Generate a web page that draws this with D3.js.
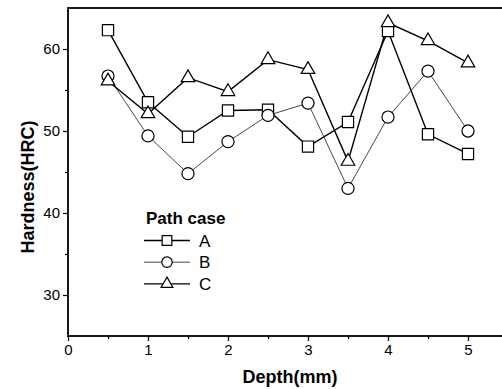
<!DOCTYPE html>
<html lang="en">
<head>
<meta charset="UTF-8">
<title>Hardness vs Depth</title>
<script src="https://cdnjs.cloudflare.com/ajax/libs/d3/7.8.5/d3.min.js"></script>
<style>
  body { margin: 0; background: #fff; }
  svg { display: block; font-family: "Liberation Sans", Arial, sans-serif; }
</style>
</head>
<body>
<svg width="502" height="389"></svg>
<script>
// data
const depth = [0.5, 1, 1.5, 2, 2.5, 3, 3.5, 4, 4.5, 5];
const caseA = [62.3, 53.5, 49.3, 52.5, 52.6, 48.1, 51.1, 62.2, 49.6, 47.2];
const caseB = [56.7, 49.4, 44.8, 48.7, 51.9, 53.4, 43.0, 51.7, 57.3, 50.0];
const caseC = [56.1, 52.1, 56.5, 54.8, 58.7, 57.5, 46.3, 63.2, 61.0, 58.3];
const seriesNames = ["A", "B", "C"];
const xTicks = [0, 1, 2, 3, 4, 5];
const yTicks = [30, 40, 50, 60];

const svg = d3.select("svg");
const x = d3.scaleLinear().domain([0, 5.5]).range([68, 508]);
const y = d3.scaleLinear().domain([25, 65]).range([336, 8]);

// frame
svg.append("rect")
  .attr("x", x(0)).attr("y", y(65))
  .attr("width", x(5.5) - x(0)).attr("height", y(25) - y(65))
  .attr("fill", "none").attr("stroke", "#000").attr("stroke-width", 1.8);

// axes
svg.append("g").attr("transform", `translate(0,${y(25)})`)
  .call(d3.axisBottom(x).tickValues(xTicks).tickSize(5).tickPadding(3).tickFormat(d3.format("d")));
svg.append("g").attr("transform", `translate(0,${y(25)})`)
  .call(d3.axisBottom(x).tickValues(d3.range(0.5, 5.5, 1)).tickSize(3).tickFormat(""));
svg.append("g").attr("transform", `translate(${x(0)},0)`)
  .call(d3.axisLeft(y).tickValues(yTicks).tickSize(5).tickPadding(3).tickFormat(d3.format("d")));
svg.append("g").attr("transform", `translate(${x(0)},0)`)
  .call(d3.axisLeft(y).tickValues([35, 45, 55]).tickSize(3).tickFormat(""));
svg.selectAll(".domain").remove();
svg.selectAll(".tick line").attr("stroke", "#000").attr("stroke-width", 1.2);
svg.selectAll(".tick text").attr("font-size", 15).attr("fill", "#000");

// axis titles
svg.append("text").attr("x", 290).attr("y", 383).attr("text-anchor", "middle")
  .attr("font-size", 18).attr("font-weight", "bold").text("Depth(mm)");
svg.append("text").attr("transform", "translate(34,187) rotate(-90)").attr("text-anchor", "middle")
  .attr("font-size", 18).attr("font-weight", "bold").text("Hardness(HRC)");

const series = [
  { name: seriesNames[0], values: caseA, shape: d3.symbolSquare, size: 125, width: 1.4, color: "#000" },
  { name: seriesNames[1], values: caseB, shape: d3.symbolCircle, size: 115, width: 0.9, color: "#333" },
  { name: seriesNames[2], values: caseC, shape: d3.symbolTriangle, size: 80, width: 1.4, color: "#000" }
];

const line = d3.line().x((d, i) => x(depth[i])).y(d => y(d));

series.forEach(s => {
  svg.append("path").datum(s.values).attr("d", line)
    .attr("fill", "none").attr("stroke", s.color).attr("stroke-width", s.width);
});
series.forEach(s => {
  svg.append("g").selectAll("path").data(s.values).join("path")
    .attr("transform", (d, i) => `translate(${x(depth[i])},${y(d)})`)
    .attr("d", d3.symbol().type(s.shape).size(s.size))
    .attr("fill", "#fff").attr("stroke", "#000").attr("stroke-width", 1.2);
});

// legend
const leg = svg.append("g");
leg.append("text").attr("x", 146).attr("y", 224).attr("font-size", 17)
  .attr("font-weight", "bold").text("Path case");
series.forEach((s, i) => {
  const ly = 240.5 + i * 21.7;
  leg.append("line").attr("x1", 144).attr("x2", 190).attr("y1", ly).attr("y2", ly)
    .attr("stroke", s.color).attr("stroke-width", s.width);
  leg.append("path").attr("transform", `translate(167,${ly})`)
    .attr("d", d3.symbol().type(s.shape).size(s.size * 0.75))
    .attr("fill", "#fff").attr("stroke", "#000").attr("stroke-width", 1.2);
  leg.append("text").attr("x", 199).attr("y", ly + 6).attr("font-size", 17).text(s.name);
});
</script>
</body>
</html>
